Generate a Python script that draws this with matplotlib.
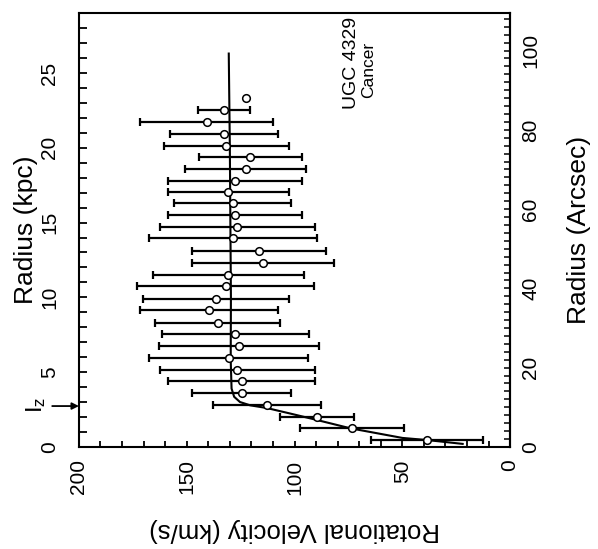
import numpy as np
import matplotlib
matplotlib.use('Agg')
import matplotlib.pyplot as plt
from matplotlib.ticker import MultipleLocator, FixedLocator

# ── Data ─────────────────────────────────────────────────────────────────────
radius_kpc = [0.47, 1.24, 2.0, 2.78, 3.6, 4.4, 5.15, 5.95, 6.75, 7.55,
              8.3, 9.13, 9.9, 10.73, 11.5, 12.3, 13.1, 13.95, 14.7, 15.5,
              16.3, 17.07, 17.8, 18.6, 19.4, 20.15, 20.95, 21.7, 22.5, 23.3]
velocity = [38.4, 73.3, 89.6, 112.6, 124.4, 124.5, 126.6, 130.6, 125.7, 127.5,
            135.6, 139.8, 136.4, 131.9, 130.7, 114.6, 116.5, 128.6, 126.6, 127.6,
            128.7, 130.7, 127.6, 122.7, 120.5, 131.7, 132.6, 140.8, 132.6, 122.6]
vel_err = [26, 24, 17, 25, 23, 34, 36, 37, 37, 34,
           29, 32, 34, 41, 35, 33, 31, 39, 36, 31,
           27, 28, 31, 28, 24, 29, 25, 31, 12, 0]

model_r = [0.2, 0.45, 0.6, 1.24, 1.83, 2.23, 2.6, 2.78, 3.0, 3.35, 3.9,
           5.8, 10.0, 20.0, 26.3]
model_v = [22, 38, 50, 74, 90.5, 102, 112.9, 120.6, 125.3, 128, 129.2,
           129.6, 129.5, 130, 130.5]

arcsec_ticks = [0, 20, 40, 60, 80, 100]

KPC_PER_ARCSEC = 0.265
IZ_KPC = 2.73

plt.rcParams['font.family'] = ['Liberation Sans', 'DejaVu Sans']

fig = plt.figure(figsize=(5.98, 5.49), dpi=100)
ax = fig.add_axes([0.132, 0.186, 0.721, 0.790])

r = np.array(radius_kpc)
v = np.array(velocity)
e = np.array(vel_err)
has_err = e > 0

ax.plot(model_v, model_r, color='black', lw=1.5, zorder=2)
ax.errorbar(v[has_err], r[has_err], xerr=e[has_err], fmt='none',
            ecolor='black', elinewidth=1.6, capsize=3.2, capthick=1.6, zorder=3)
ax.plot(v, r, 'o', ms=5.5, mfc='white', mec='black', mew=1.1, zorder=4)

ax.set_xlim(200, 0)
ax.set_ylim(0, 29)

ax.xaxis.set_major_locator(MultipleLocator(50))
ax.xaxis.set_minor_locator(MultipleLocator(10))
ax.yaxis.set_major_locator(MultipleLocator(5))
ax.yaxis.set_minor_locator(MultipleLocator(1))

ax.tick_params(axis='x', which='both', direction='in', top=False,
               length=4, width=1.3, labelsize=15, pad=9, labelrotation=90)
ax.tick_params(axis='y', which='both', direction='in', right=False,
               length=5.5, width=1.3, labelsize=15, pad=14, labelrotation=90)
for lbl in ax.get_yticklabels():
    lbl.set_va('center')

for sp in ax.spines.values():
    sp.set_linewidth(1.5)

ax.set_xlabel('Rotational Velocity (km/s)', fontsize=18.5, rotation=180,
              labelpad=17)
ax.set_ylabel('Radius (kpc)', fontsize=19, labelpad=2)

sec = ax.secondary_yaxis('right', functions=(lambda k: k / KPC_PER_ARCSEC,
                                             lambda a: a * KPC_PER_ARCSEC))
sec.yaxis.set_major_locator(FixedLocator(arcsec_ticks))
sec.yaxis.set_minor_locator(MultipleLocator(2))
sec.tick_params(which='both', direction='in', length=4.5, width=1.1,
                labelsize=15, pad=8, labelrotation=90)
for lbl in sec.get_yticklabels():
    lbl.set_va('center')
sec.spines['right'].set_linewidth(1.5)
sec.set_ylabel('Radius (Arcsec)', fontsize=19, labelpad=19)

ax.text(0.633, 0.885, 'UGC 4329', transform=ax.transAxes,
        rotation=90, ha='center', va='center', fontsize=14)
ax.text(0.671, 0.869, 'Cancer', transform=ax.transAxes,
        rotation=90, ha='center', va='center', fontsize=12.5)

# I_z marker on the radius axis
ax.annotate('', xy=(0.0, IZ_KPC), xycoords=('axes fraction', 'data'),
            xytext=(-0.062, IZ_KPC), textcoords=('axes fraction', 'data'),
            arrowprops=dict(arrowstyle='-|>', color='black', lw=1.3,
                            mutation_scale=10, shrinkA=0, shrinkB=0),
            annotation_clip=False)
ax.text(-0.1, IZ_KPC + 0.1, r'$\mathrm{I}_\mathrm{z}$',
        transform=ax.get_yaxis_transform(), rotation=90,
        ha='center', va='center', fontsize=16)

fig.savefig('out.png', dpi=100)
